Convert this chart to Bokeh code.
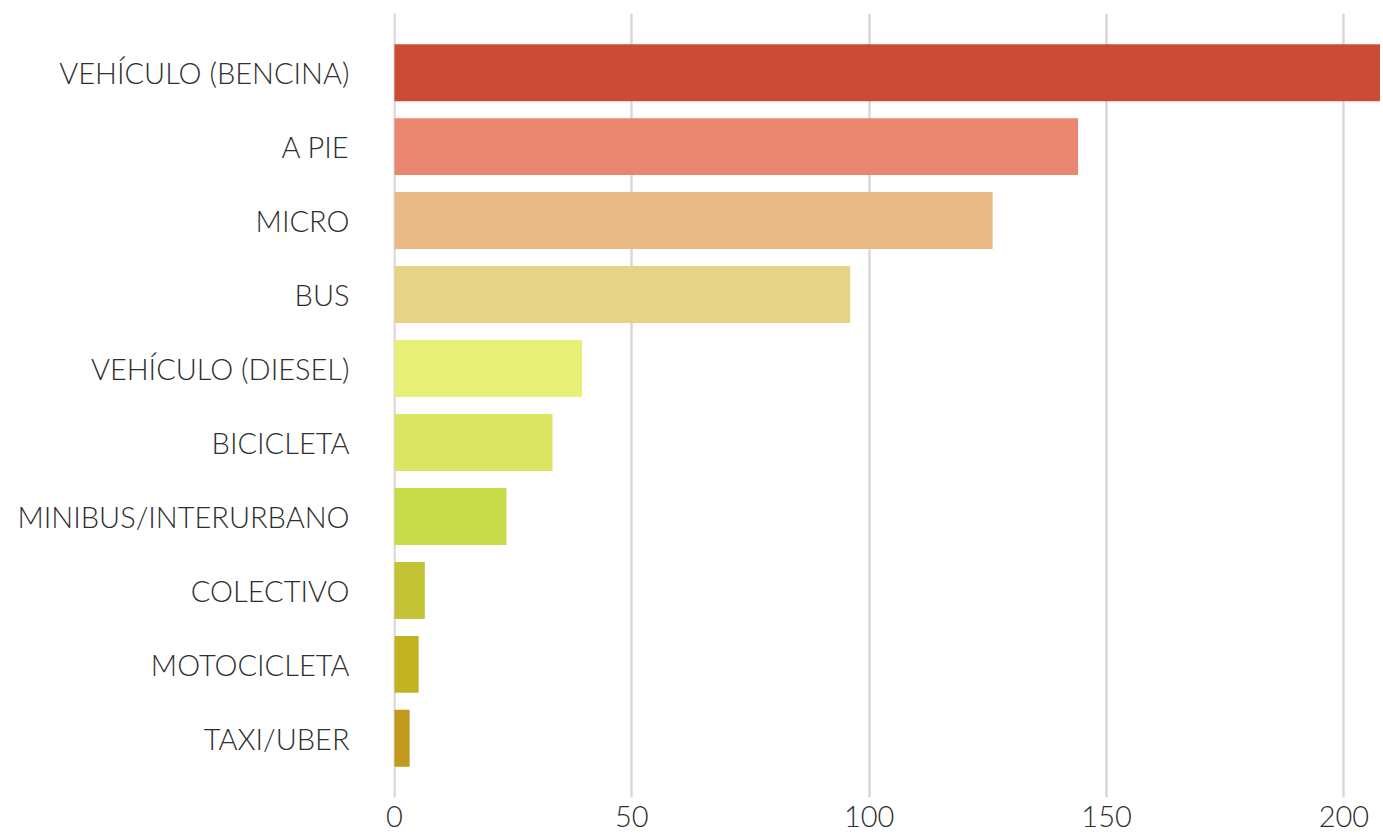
from bokeh.plotting import figure
from bokeh.models import FactorRange, Range1d, ColumnDataSource, FixedTicker
from bokeh.embed import file_html
from bokeh.resources import INLINE

categories = ["VEHÍCULO (BENCINA)", "A PIE", "MICRO", "BUS", "VEHÍCULO (DIESEL)",
              "BICICLETA", "MINIBUS/INTERURBANO", "COLECTIVO", "MOTOCICLETA", "TAXI/UBER"]
values = [210, 144, 126, 96, 39.5, 33.3, 23.6, 6.4, 5.1, 3.2]
colors = ["#CB4B37", "#E9866F", "#E6B985", "#E6D387", "#E6F077", "#DCE563",
          "#C8DC4A", "#C4C335", "#C2B420", "#C29A1E"]
x_ticks = [0, 50, 100, 150, 200]

FONT = "'Lato Light', Lato"
TEXT = "#2e2e2e"

src = ColumnDataSource(dict(cat=categories, val=values, color=colors))

y_range = FactorRange(factors=list(reversed(categories)), range_padding=0.3,
                      range_padding_units="absolute")

p = figure(width=1380, height=836, y_range=y_range, x_range=Range1d(-0.2, 207.7),
           output_backend="svg", toolbar_location=None,
           min_border_left=393, min_border_top=13, min_border_bottom=39, min_border_right=0)

p.hbar(y="cat", right="val", left=0, height=0.77, color="color", source=src, line_color=None)

p.outline_line_color = None
p.ygrid.grid_line_color = None
p.xgrid.grid_line_color = "#DDD6D7"
p.xgrid.grid_line_width = 2.5
p.xgrid.ticker = FixedTicker(ticks=x_ticks)
p.xaxis.ticker = FixedTicker(ticks=x_ticks)

for ax in (p.xaxis, p.yaxis):
    ax.axis_line_color = None
    ax.major_tick_line_color = None
    ax.minor_tick_line_color = None
    ax.major_tick_out = 0
    ax.major_tick_in = 0
    ax.major_label_text_font = FONT
    ax.major_label_text_color = TEXT
    ax.major_label_text_font_size = "29px"

p.yaxis.major_label_standoff = 44
p.xaxis.major_label_standoff = 8

open("out.html", "w").write(file_html(p, INLINE))
